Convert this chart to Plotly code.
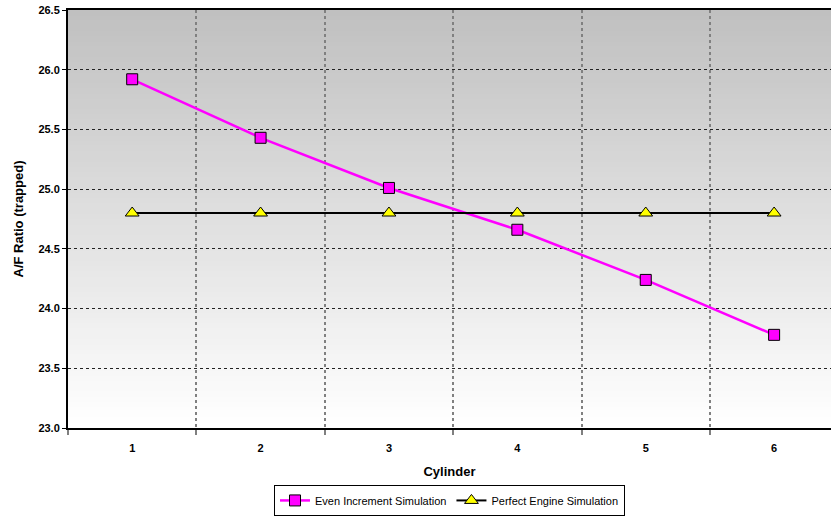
import plotly.graph_objects as go

cylinders = [1, 2, 3, 4, 5, 6]
even_increment = [25.92, 25.43, 25.01, 24.66, 24.24, 23.78]
perfect_engine = [24.80, 24.80, 24.80, 24.80, 24.80, 24.80]
y_ticks = [23.0, 23.5, 24.0, 24.5, 25.0, 25.5, 26.0, 26.5]

FONT = "Liberation Sans, Arial, sans-serif"

fig = go.Figure()
fig.add_trace(go.Scatter(
    x=cylinders, y=even_increment, mode="lines+markers",
    name="Even Increment Simulation",
    line=dict(color="#FF00FF", width=2.5),
    marker=dict(symbol="square", size=11, color="#FF00FF",
                line=dict(color="#000000", width=1)),
))
fig.add_trace(go.Scatter(
    x=cylinders, y=perfect_engine, mode="lines+markers",
    name="Perfect Engine Simulation",
    line=dict(color="#000000", width=2),
    marker=dict(symbol="triangle-up", size=12, color="#FFFF00",
                line=dict(color="#000000", width=1)),
))

# vertical gradient background (style only)
n = 80
shapes = []
for i in range(n):
    t = i / (n - 1)
    c = int(round(255 - t * (255 - 192)))
    shapes.append(dict(type="rect", xref="paper", yref="paper",
                       x0=0, x1=1, y0=i / n, y1=(i + 1) / n + 0.002,
                       fillcolor=f"rgb({c},{c},{c})", line=dict(width=0),
                       layer="below"))

fig.update_layout(
    width=831, height=518,
    margin=dict(l=68, r=0, t=10, b=90),
    paper_bgcolor="white", plot_bgcolor="white",
    font=dict(family=FONT, color="#000000"),
    shapes=shapes,
    showlegend=True,
    legend=dict(orientation="h", x=0.5, xanchor="center",
                yref="container", y=0.004, yanchor="bottom",
                bordercolor="#000000", borderwidth=1, bgcolor="white",
                font=dict(size=11, family=FONT), itemwidth=30,
                tracegroupgap=0),
    xaxis=dict(
        range=[0.5, 6.443], tickvals=cylinders, ticktext=[str(c) for c in cylinders],
        showgrid=False, zeroline=False, ticks="", automargin=False,
        ticklabelstandoff=9,
        showline=True, linecolor="#000000", linewidth=2, mirror=True,
        tickfont=dict(size=11, family=FONT, weight="bold"),
        title=dict(text="<b>Cylinder</b>", font=dict(size=13, family=FONT), standoff=14),
        minor=dict(tick0=0.5, dtick=1, showgrid=True, gridcolor="#808080",
                   gridwidth=1.5, griddash="3px,3px", ticks="outside",
                   ticklen=5, tickcolor="#808080", tickwidth=1.5),
    ),
    yaxis=dict(
        range=[23.0, 26.5], tickvals=y_ticks, ticktext=[f"{v:.1f}" for v in y_ticks],
        showgrid=True, gridcolor="#222222", gridwidth=1, griddash="3px,3px",
        zeroline=False, ticks="outside", ticklen=4, tickcolor="#000000",
        automargin=False,
        showline=True, linecolor="#000000", linewidth=2,
        tickfont=dict(size=11, family=FONT, weight="bold"),
        title=dict(text="<b>A/F Ratio (trapped)</b>", font=dict(size=13, family=FONT), standoff=12),
    ),
)

fig.write_html("out.html")
